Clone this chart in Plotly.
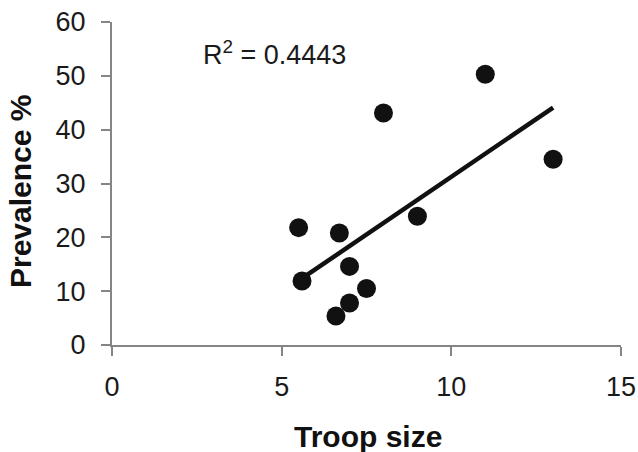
import numpy as np
import plotly.graph_objects as go

troop_size = [5.5, 5.6, 6.6, 6.7, 7.0, 7.0, 7.5, 8.0, 9.0, 11.0, 13.0]
prevalence = [21.8, 11.9, 5.4, 20.8, 14.6, 7.8, 10.5, 43.1, 23.9, 50.3, 34.5]
x_ticks = [0, 5, 10, 15]
y_ticks = [0, 10, 20, 30, 40, 50, 60]
r2_label = "R<sup>2</sup> = 0.4443"
x_title = "Troop size"
y_title = "Prevalence %"

slope, intercept = np.polyfit(troop_size, prevalence, 1)
fit_x = [min(troop_size), max(troop_size)]
fit_y = [slope * v + intercept for v in fit_x]

font_family = "Liberation Sans, Arial, sans-serif"
axis_color = "#858585"

W, H = 638, 452
ML, MR, MT, MB = 112, 17, 22, 107
plot_w = W - ML - MR
plot_h = H - MT - MB

def px_x(p):
    return (p - ML) / plot_w

def px_y(p):
    return (H - MB - p) / plot_h

fig = go.Figure()
fig.add_trace(go.Scatter(x=fit_x, y=fit_y, mode="lines",
                         line=dict(color="#111111", width=4.5), showlegend=False))
fig.add_trace(go.Scatter(x=troop_size, y=prevalence, mode="markers",
                         marker=dict(color="#111111", size=19, line=dict(width=0)),
                         showlegend=False))

fig.update_layout(
    width=W, height=H,
    margin=dict(l=ML, r=MR, t=MT, b=MB, autoexpand=False),
    paper_bgcolor="white", plot_bgcolor="white",
    font=dict(family=font_family, size=27, color="#1a1a1a"),
    xaxis=dict(range=[0, 15], tickvals=x_ticks, showgrid=False, zeroline=False,
               showline=True, linecolor=axis_color, linewidth=2,
               ticks="outside", ticklen=9, tickwidth=1.5, tickcolor=axis_color,
               ticklabelstandoff=8, automargin=False, fixedrange=True),
    yaxis=dict(range=[0, 60], tickvals=y_ticks, showgrid=False, zeroline=False,
               showline=True, linecolor=axis_color, linewidth=2,
               ticks="outside", ticklen=9, tickwidth=1.5, tickcolor=axis_color,
               ticklabelstandoff=10, automargin=False, fixedrange=True),
    annotations=[
        dict(text=r2_label, x=2.62, y=54.2, xref="x", yref="y", xanchor="left",
             yanchor="middle", showarrow=False, font=dict(size=27, color="#1a1a1a")),
        dict(text="<b>" + x_title + "</b>", x=px_x(368), y=px_y(436),
             xref="paper", yref="paper", xanchor="center", yanchor="middle",
             showarrow=False, font=dict(size=30, color="#111111")),
        dict(text="<b>" + y_title + "</b>", x=px_x(20), y=px_y(192), textangle=-90,
             xref="paper", yref="paper", xanchor="center", yanchor="middle",
             showarrow=False, font=dict(size=30, color="#111111")),
    ],
)

fig.write_html(
    "out.html",
    config={"displayModeBar": False},
    post_script="document.body.style.margin='0';document.body.style.overflow='hidden';",
)
